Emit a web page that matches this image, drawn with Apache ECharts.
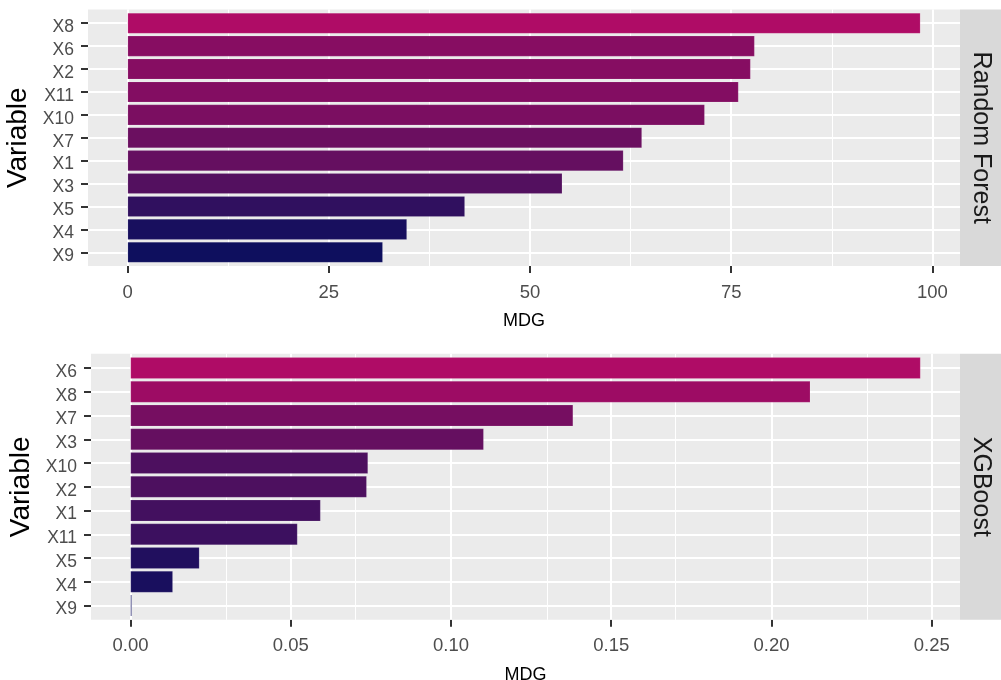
<!DOCTYPE html>
<html>
<head>
<meta charset="utf-8">
<title>Variable importance</title>
<script src="https://cdn.jsdelivr.net/npm/echarts@6/dist/echarts.min.js"></script>
<style>
  html, body { margin: 0; padding: 0; background: #ffffff; }
  #chart { width: 1001px; height: 680px; }
</style>
</head>
<body>
<div id="chart"></div>
<script>
// Mean decrease in Gini (MDG) per variable, one facet per model
const rfVariables = ['X8', 'X6', 'X2', 'X11', 'X10', 'X7', 'X1', 'X3', 'X5', 'X4', 'X9'];
const rfMDG = [98.5, 77.9, 77.4, 75.9, 71.7, 63.9, 61.6, 54.0, 41.9, 34.7, 31.7];

const xgbVariables = ['X6', 'X8', 'X7', 'X3', 'X10', 'X2', 'X1', 'X11', 'X5', 'X4', 'X9'];
const xgbMDG = [0.2465, 0.2121, 0.1381, 0.1102, 0.0741, 0.0737, 0.0593, 0.0521, 0.0215, 0.0132, 0.0004];

const rfTicks = [0, 25, 50, 75, 100];
const rfMinorTicks = [12.5, 37.5, 62.5, 87.5];
const xgbTicks = [0, 0.05, 0.10, 0.15, 0.20, 0.25];
const xgbMinorTicks = [0.025, 0.075, 0.125, 0.175, 0.225];

const facetLabels = ['Random Forest', 'XGBoost'];
const xTitle = 'MDG';
const yTitle = 'Variable';

// Low -> high fill ramp (navy to magenta)
const fillRamp = ['#0E0F5E', '#45105F', '#6E0F60', '#8F0C63', '#AF0C66'];

const FONT = '"Liberation Sans", Arial, Helvetica, sans-serif';
const CHART_W = 1001;
const STRIP_W = 41;

const panels = [
  { vars: rfVariables, vals: rfMDG, ticks: rfTicks, minor: rfMinorTicks,
    label: facetLabels[0], left: 88, top: 9.5, height: 256.5,
    fmt: v => String(Math.round(v)) },
  { vars: xgbVariables, vals: xgbMDG, ticks: xgbTicks, minor: xgbMinorTicks,
    label: facetLabels[1], left: 91, top: 353.8, height: 266,
    fmt: v => v.toFixed(2) }
];

const grid = [], xAxis = [], yAxis = [], series = [], visualMap = [], graphic = [];

const tickStyle = () => ({ color: '#333333', width: 2 });
const whiteLine = w => ({ color: '#ffffff', width: w, type: 'solid' });

panels.forEach((p, k) => {
  const n = p.vars.length;
  const step = p.height / (n + 0.2);          // discrete scale with 0.6 padding each side
  const vmax = Math.max(...p.vals);
  const lo = -0.05 * vmax, hi = 1.05 * vmax;  // 5% continuous expansion
  const bg = 2 * k, inner = 2 * k + 1;

  // panel background + continuous axis
  grid.push({ left: p.left, right: STRIP_W, top: p.top, height: p.height,
    show: true, backgroundColor: '#EBEBEB', borderWidth: 0,
    containLabel: false, outerBoundsMode: 'none' });
  // bar area (category bands)
  grid.push({ left: p.left, right: STRIP_W, top: p.top + 0.1 * step, height: n * step,
    show: false, containLabel: false, outerBoundsMode: 'none' });

  xAxis.push({
    gridIndex: bg, type: 'value', min: lo, max: hi, position: 'bottom',
    axisLine: { show: false, onZero: false },
    splitLine: { show: false },
    axisTick: { show: true, customValues: p.ticks, length: 7, lineStyle: tickStyle() },
    axisLabel: { show: true, customValues: p.ticks, formatter: p.fmt, margin: 17,
      fontSize: 18.5, color: '#4D4D4D', fontFamily: FONT },
    name: xTitle, nameLocation: 'middle', nameGap: 46,
    nameTextStyle: { fontSize: 18, color: '#000000', fontFamily: FONT }
  });
  yAxis.push({ gridIndex: bg, type: 'value', min: 0, max: 1, show: false });

  xAxis.push({ gridIndex: inner, type: 'value', min: lo, max: hi, show: false });
  yAxis.push({
    gridIndex: inner, type: 'category', inverse: true, data: p.vars, position: 'left',
    axisLine: { show: true, onZero: false, lineStyle: { color: 'rgba(0,0,0,0)', width: 0 } },
    splitLine: { show: false },
    axisTick: { show: true, interval: 0, alignWithLabel: true, inside: false,
      length: 7, lineStyle: tickStyle() },
    axisLabel: { interval: 0, margin: 14, fontSize: 17.5, color: '#4D4D4D', fontFamily: FONT,
      verticalAlign: 'top', lineHeight: 8 },
    name: yTitle, nameLocation: 'middle', nameRotate: 90, nameGap: p.left - 42,
    nameTextStyle: { fontSize: 28, color: '#000000', fontFamily: FONT }
  });

  // vertical grid lines (minor + major) across the full panel
  series.push({
    type: 'line', xAxisIndex: bg, yAxisIndex: bg, data: [], silent: true,
    markLine: {
      silent: true, z: 1, symbol: ['none', 'none'], label: { show: false },
      emphasis: { disabled: true }, animation: false,
      data: p.minor.map(v => ({ xAxis: v, lineStyle: whiteLine(1) }))
        .concat(p.ticks.map(v => ({ xAxis: v, lineStyle: whiteLine(2) })))
    }
  });
  // horizontal grid lines at each category
  series.push({
    type: 'line', xAxisIndex: inner, yAxisIndex: inner, data: [], silent: true,
    markLine: {
      silent: true, z: 1, symbol: ['none', 'none'], label: { show: false },
      emphasis: { disabled: true }, animation: false,
      data: p.vars.map(c => ({ yAxis: c, lineStyle: whiteLine(2) }))
    }
  });
  // bars
  const barIndex = series.length;
  series.push({
    type: 'bar', xAxisIndex: inner, yAxisIndex: inner, z: 2,
    barWidth: '90%',
    data: p.vars.map((c, i) => [p.vals[i], c]),
    itemStyle: { borderColor: 'rgba(255,255,255,0.25)', borderWidth: 0.5 },
    emphasis: { disabled: true }
  });
  visualMap.push({
    type: 'continuous', show: false, seriesIndex: barIndex, dimension: 0,
    min: Math.min(...p.vals), max: vmax,
    inRange: { color: fillRamp }
  });

  // facet strip on the right
  graphic.push({
    type: 'rect', silent: true,
    shape: { x: CHART_W - STRIP_W, y: p.top, width: STRIP_W, height: p.height },
    style: { fill: '#D9D9D9' }
  });
  graphic.push({
    type: 'text', silent: true,
    x: CHART_W - STRIP_W / 2, y: p.top + p.height / 2, rotation: -Math.PI / 2,
    style: { text: p.label, fontSize: 25, fontFamily: FONT, fill: '#1A1A1A',
      align: 'center', verticalAlign: 'middle' }
  });
});

const chart = echarts.init(document.getElementById('chart'), null, { renderer: 'canvas' });
chart.setOption({
  backgroundColor: '#ffffff',
  animation: false,
  grid, xAxis, yAxis, series, visualMap, graphic
});
</script>
</body>
</html>
